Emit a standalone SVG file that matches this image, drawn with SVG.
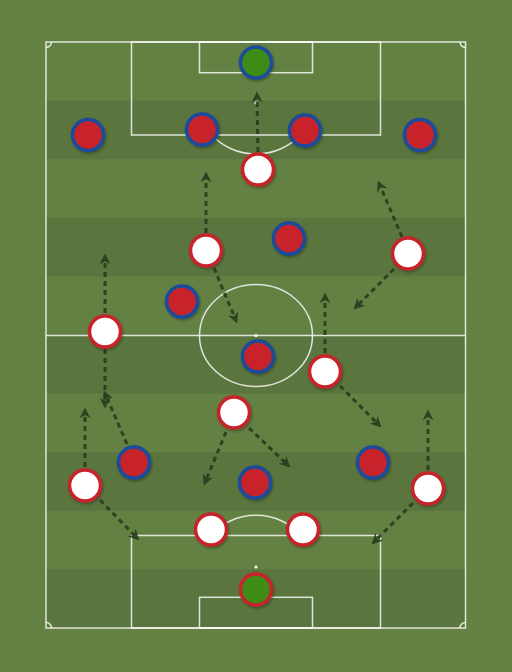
<svg xmlns="http://www.w3.org/2000/svg" width="512" height="672" viewBox="0 0 512 672">
<defs>
<style>
.line{fill:none;stroke:#ffffff;stroke-opacity:0.8;stroke-width:1.5}
.stripe{fill:#5a753e}
.mv{fill:none;stroke:#2a3a1e;stroke-opacity:0.9;stroke-width:3;stroke-dasharray:5 4;marker-end:url(#ah)}
.blue{fill:#c8232c;stroke:#1a4b9c;stroke-width:3.5;filter:url(#sh)}
.blue-gk{fill:#3e8c14;stroke:#1a4b9c;stroke-width:3.5;filter:url(#sh)}
.red{fill:#ffffff;stroke:#c8232c;stroke-width:3.5;filter:url(#sh)}
.red-gk{fill:#3e8c14;stroke:#c8232c;stroke-width:3.5;filter:url(#sh)}
</style>
<marker id="ah" viewBox="0 0 10 10" refX="4" refY="5" markerWidth="11" markerHeight="11" markerUnits="userSpaceOnUse" orient="auto">
<path d="M0,0 L10,5 L0,10 L3,5 z" fill="#2a3a1e" fill-opacity="0.9"/>
</marker>
<filter id="sh" x="-30%" y="-30%" width="160%" height="160%">
<feDropShadow dx="1" dy="1.5" stdDeviation="1.2" flood-color="#1e2a12" flood-opacity="0.5"/>
</filter>
</defs>
<rect x="0" y="0" width="512" height="672" fill="#648144"/>
<g id="pitch">
<rect class="stripe" x="46" y="100.6" width="419.5" height="58.6"/>
<rect class="stripe" x="46" y="217.8" width="419.5" height="58.6"/>
<rect class="stripe" x="46" y="335" width="419.5" height="58.6"/>
<rect class="stripe" x="46" y="452.2" width="419.5" height="58.6"/>
<rect class="stripe" x="46" y="569.4" width="419.5" height="58.6"/>
<rect class="line" x="46" y="42" width="419.5" height="586"/>
<line class="line" x1="46" y1="335.5" x2="465.5" y2="335.5"/>
<ellipse class="line" cx="256" cy="335.5" rx="56.5" ry="51"/>
<circle cx="256" cy="335.5" r="1.6" fill="#fff"/>
<rect class="line" x="131.5" y="42" width="249" height="93"/>
<rect class="line" x="199.5" y="42" width="113" height="30.7"/>
<circle cx="256" cy="103" r="1.6" fill="#fff"/>
<path class="line" d="M212,135 A56.5,51 0 0 0 300,135"/>
<rect class="line" x="131.5" y="535.5" width="249" height="92.5"/>
<rect class="line" x="199.5" y="597.3" width="113" height="30.7"/>
<circle cx="256" cy="567" r="1.6" fill="#fff"/>
<path class="line" d="M211,535.5 A56.5,51 0 0 1 301,535.5"/>
<path class="line" d="M46,47.5 A5.5,5.5 0 0 0 51.5,42"/>
<path class="line" d="M460,42 A5.5,5.5 0 0 0 465.5,47.5"/>
<path class="line" d="M46,622.5 A5.5,5.5 0 0 1 51.5,628"/>
<path class="line" d="M460,628 A5.5,5.5 0 0 1 465.5,622.5"/>
</g>
<g id="connectors">
<line class="mv" x1="258" y1="152" x2="257" y2="98"/>
<line class="mv" x1="206" y1="233" x2="206" y2="178"/>
<line class="mv" x1="402" y1="237" x2="380.4" y2="186.5"/>
<line class="mv" x1="394" y1="269" x2="358.2" y2="304.8"/>
<line class="mv" x1="105" y1="313" x2="105" y2="260"/>
<line class="mv" x1="214" y1="268" x2="234.7" y2="317.5"/>
<line class="mv" x1="325" y1="353" x2="325" y2="299"/>
<line class="mv" x1="105" y1="349" x2="105" y2="402"/>
<line class="mv" x1="127" y1="444" x2="106.4" y2="396.5"/>
<line class="mv" x1="85" y1="467" x2="85" y2="414"/>
<line class="mv" x1="100" y1="500" x2="134.8" y2="535.7"/>
<line class="mv" x1="340" y1="386" x2="376.8" y2="422.8"/>
<line class="mv" x1="249" y1="428" x2="285.6" y2="462.9"/>
<line class="mv" x1="226" y1="432" x2="206.3" y2="479.5"/>
<line class="mv" x1="428" y1="470" x2="428" y2="416"/>
<line class="mv" x1="413" y1="503" x2="376.2" y2="539.8"/>
</g>
<g id="team-blue">
<circle id="b-gk" class="blue-gk" cx="256" cy="62.5" r="15.5"/>
<circle id="b-lb" class="blue" cx="88" cy="135" r="15.5"/>
<circle id="b-cb1" class="blue" cx="202" cy="129.5" r="15.5"/>
<circle id="b-cb2" class="blue" cx="305" cy="130.5" r="15.5"/>
<circle id="b-rb" class="blue" cx="420" cy="135" r="15.5"/>
<circle id="b-cm1" class="blue" cx="289" cy="238.5" r="15.5"/>
<circle id="b-cm2" class="blue" cx="182" cy="301.5" r="15.5"/>
<circle id="b-am" class="blue" cx="258" cy="356.5" r="15.5"/>
<circle id="b-lw" class="blue" cx="134" cy="462.5" r="15.5"/>
<circle id="b-st" class="blue" cx="255" cy="482.5" r="15.5"/>
<circle id="b-rw" class="blue" cx="373" cy="462.5" r="15.5"/>
</g>
<g id="team-red">
<circle id="r-st" class="red" cx="258" cy="169.5" r="15.5"/>
<circle id="r-am1" class="red" cx="206" cy="250.5" r="15.5"/>
<circle id="r-rw" class="red" cx="408" cy="253.5" r="15.5"/>
<circle id="r-lw" class="red" cx="105" cy="331.5" r="15.5"/>
<circle id="r-cm1" class="red" cx="325" cy="371.5" r="15.5"/>
<circle id="r-cm2" class="red" cx="234" cy="412.5" r="15.5"/>
<circle id="r-lb" class="red" cx="85" cy="485.5" r="15.5"/>
<circle id="r-rb" class="red" cx="428" cy="488.5" r="15.5"/>
<circle id="r-cb1" class="red" cx="211" cy="529.5" r="15.5"/>
<circle id="r-cb2" class="red" cx="303" cy="529.5" r="15.5"/>
<circle id="r-gk" class="red-gk" cx="256" cy="589.5" r="15.5"/>
</g>
</svg>
